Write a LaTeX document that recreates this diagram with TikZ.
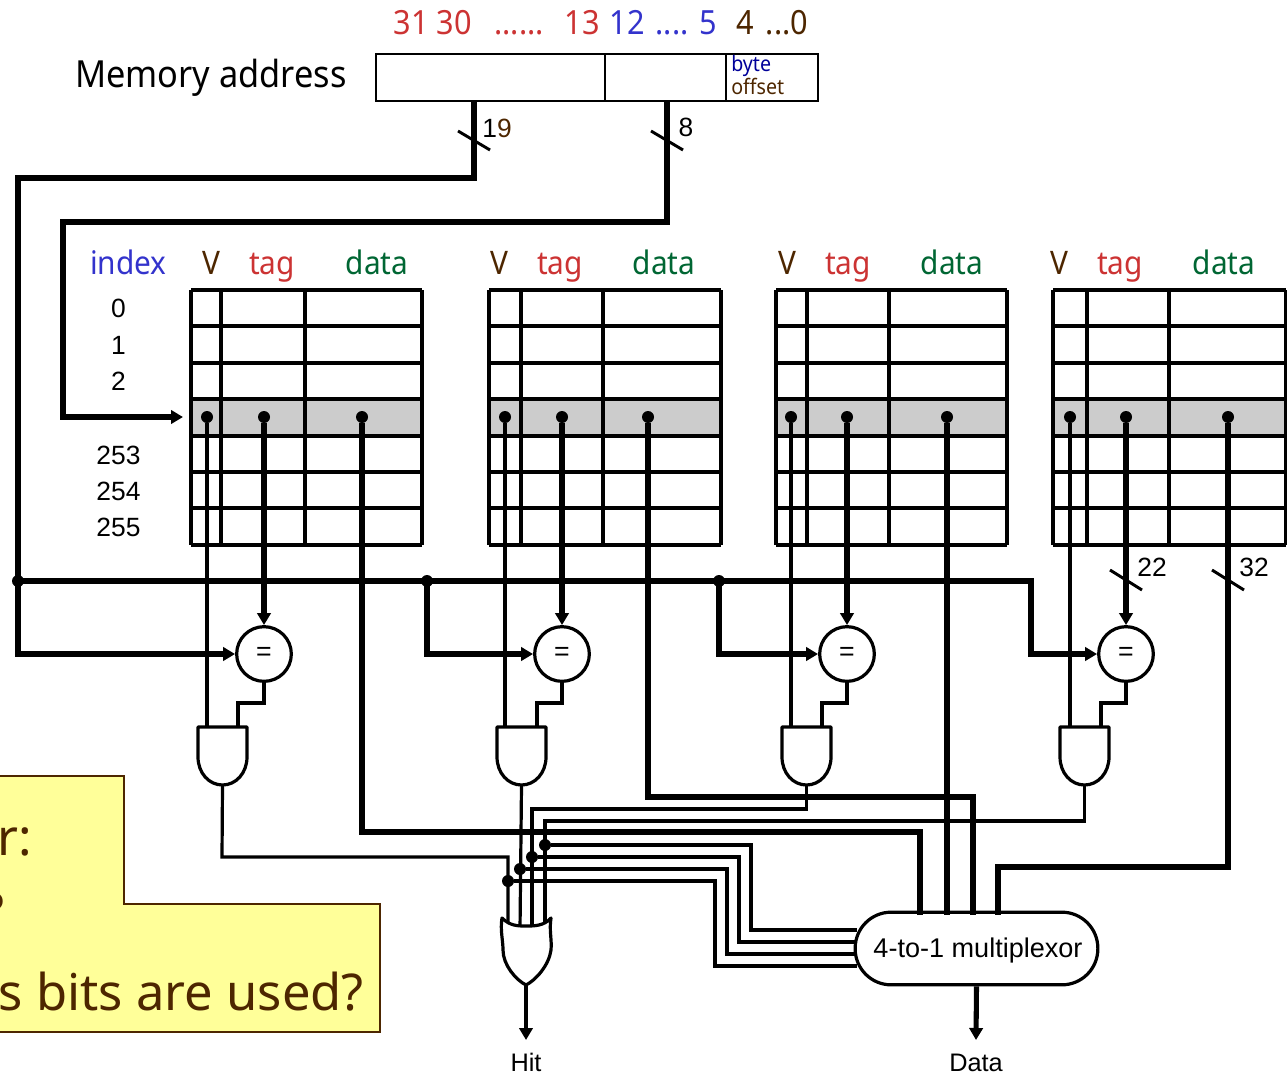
\documentclass[tikz,border=0pt]{standalone}
\usepackage{fontspec}
\setmainfont{Liberation Sans}
\newfontfamily\tah[FakeStretch=0.92]{Noto Sans}
\newfontfamily\tahc{Noto Sans}
\usetikzlibrary{arrows.meta,calc}
\definecolor{cred}{HTML}{CC3333}
\definecolor{cblue}{HTML}{3333CC}
\definecolor{cnavy}{HTML}{000099}
\definecolor{cbrown}{HTML}{4D2600}
\definecolor{cgreen}{HTML}{006633}
\definecolor{cyell}{HTML}{FFFF99}
\definecolor{cgrey}{HTML}{CCCCCC}
\tikzset{
  busline/.style={line width=3.8pt,line join=miter},
  sigline/.style={line width=2.4pt,line join=miter},
  arrowed/.style={-{Stealth[inset=0pt,length=9pt,width=10pt]}},
  grid line/.style={line width=2.4pt},
  joint/.style={circle,fill=black,inner sep=0pt,minimum size=9pt},
  smalljoint/.style={circle,fill=black,inner sep=0pt,minimum size=9pt},
  gatebody/.style={draw=black,fill=white,line width=2.4pt,line join=round},
  cmpnode/.style={circle,draw=black,fill=white,line width=2.4pt,minimum size=41pt,inner sep=0pt,font=\fontsize{20}{20}\selectfont},
  bitlab/.style={font=\tah\fontsize{25}{25}\selectfont,anchor=base,inner sep=0pt},
  lab/.style={font=\tah\fontsize{24.3}{25}\selectfont,anchor=base,inner sep=0pt},
  num/.style={font=\fontsize{19.8}{20}\selectfont,anchor=base,inner sep=0pt},
  call/.style={font=\tahc\fontsize{38}{38}\selectfont,text=cbrown,inner sep=0pt}
}
\begin{document}
\begin{tikzpicture}[x=0.75pt,y=-0.75pt]
\useasboundingbox (0,0) rectangle (1287,1074);
% callout
\begin{scope}
\clip (0,0) rectangle (1287,1074);
\draw[draw=cbrown,fill=cyell,line width=1.5pt] (-10,776) -- (124,776) -- (124,904) -- (380,904) -- (380,1032) -- (-10,1032) -- cycle;
\node[call,anchor=base east] (callA) at (32,855) {r:};
\node[call,anchor=base east] (callB) at (5,929) {?};
\node[call,anchor=base east] (callC) at (364,1010) {s bits are used?};
\end{scope}
% title
\node[font=\tah\fontsize{28}{28}\selectfont,anchor=base west,inner sep=0pt] (mem) at (75,87) {Memory address};
% bit numbers
\node[bitlab,text=cred] (b1) at (433,35) {31 30};
\node[bitlab,text=cred] (b2) at (519,35) {......};
\node[bitlab,text=cred] (b3) at (582,35) {13};
\node[bitlab,text=cblue] (b4) at (627,35) {12};
\node[bitlab,text=cblue] (b5) at (672,35) {....};
\node[bitlab,text=cblue] (b6) at (708,35) {5};
\node[bitlab,text=cbrown] (b7) at (745,35) {4};
\node[bitlab,text=cbrown] (b8) at (787,35) {...0};
% address box
\draw[line width=2.2pt] (376,54) rectangle (818,101);
\draw[line width=2.2pt] (605,54) -- (605,101) (726,54) -- (726,101);
\coordinate (addrTag) at (474,101);
\coordinate (addrIdx) at (667,101);
\node[font=\tah\fontsize{16}{16}\selectfont,text=cnavy,anchor=base west,inner sep=0pt] (byte) at (731,71) {byte};
\node[font=\tah\fontsize{16}{16}\selectfont,text=cbrown,anchor=base west,inner sep=0pt] (off) at (731,94) {offset};
% index labels
\node[lab,text=cblue] (idx) at (128.5,274) {index};
\foreach \t/\y in {0/317,1/354,2/390,253/464,254/500,255/536}
  \node[num] (row\t) at (118.5,\y) {\t};
% ways
\foreach \w/\xa/\xb/\xc/\xd/\xv/\xt/\xq/\lv/\lt/\lq in {
  A/191/221/305/422/207/264/362/211/272/377,
  B/489/521/603/721/505/562/648/499/560/664,
  C/776/807/889/1007/791/847/947/787/848/952,
  D/1053/1087/1169/1286/1070/1126/1228/1059/1120/1224}{
  \fill[cgrey] (\xa,399) rectangle (\xd,436);
  \foreach \y in {290,326,363,399,436,472,508,545}
    \draw[grid line] (\xa,\y) -- (\xd,\y);
  \foreach \x in {\xa,\xb,\xc,\xd}
    \draw[grid line] (\x,290) -- (\x,545);
  \node[lab,text=cbrown] (V\w) at (\lv,274) {V};
  \node[lab,text=cred] (T\w) at (\lt,274) {tag};
  \node[lab,text=cgreen] (Q\w) at (\lq,274) {data};
  \node[smalljoint] (dv\w) at (\xv,417) {};
  \node[smalljoint] (dt\w) at (\xt,417) {};
  \node[smalljoint] (dq\w) at (\xq,417) {};
}
% components
\node[cmpnode] (cmpA) at (264,654) {=};
\node[cmpnode] (cmpB) at (562,654) {=};
\node[cmpnode] (cmpC) at (847,654) {=};
\node[cmpnode] (cmpD) at (1126,654) {=};
\foreach \w/\x in {A/198,B/497,C/782,D/1060}{
  \coordinate (and\w) at (\x,727);
  \coordinate (andO\w) at ($(\x,785)+(24.5,0)$);
}
\coordinate (orO) at (526,985);
\node[draw=black,fill=white,line width=2.4pt,rounded corners=27pt,minimum width=182pt,minimum height=54.5pt,inner sep=0pt] (mux) at (976.5,948.5) {};
\node[font=\fontsize{20.3}{21}\selectfont,anchor=base,inner sep=0pt] (muxText) at (978,957) {4-to-1 multiplexor};
% thick wires
\coordinate (busL) at (18,581);
\coordinate (jB) at (427,581);
\coordinate (jC) at (719,581);
\coordinate (idxIn) at (183,417);
\draw[busline,arrowed] (addrIdx) -- (667,222) -- (63,222) -- (63,417) -- (idxIn);
\draw[busline,arrowed] (addrTag) -- (474,178) -- (18,178) -- (18,654) -- (cmpA.west);
\draw[busline,arrowed] (busL) -- (1031,581) -- (1031,654) -- (cmpD.west);
\draw[busline,arrowed] (jB) -- (427,654) -- (cmpB.west);
\draw[busline,arrowed] (jC) -- (719,654) -- (cmpC.west);
\foreach \w in {A,B,C,D}
  \draw[busline,arrowed] (dt\w) -- (cmp\w.north);
% data wires
\draw[busline] (dqA) -- (362,832) -- (920,832) -- (920,915);
\draw[busline] (dqB) -- (648,797) -- (973,797) -- (973,915);
\draw[busline] (dqC) -- (947,915);
\draw[busline] (dqD) -- (1228,867) -- (998,867) -- (998,915);
% V wires and comparator outputs
\foreach \w/\xv/\xc/\xo in {A/207/264/238,B/505/562/537,C/791/847/822,D/1070/1126/1101}{
  \draw[sigline] (dv\w) -- (\xv,727);
  \draw[sigline] (cmp\w.south) -- (\xc,703) -- (\xo,703) -- (\xo,727);
}
% AND outputs
\coordinate (orA) at (508,925);
\coordinate (orB) at (520,930);
\coordinate (orC) at (532,930);
\coordinate (orD) at (545,925);
\draw[sigline] (andOA) -- (222,857) -- (508,857) -- (orA);
\draw[sigline] (andOB) -- (orB);
\draw[sigline] (andOC) -- (806.5,809) -- (532,809) -- (orC);
\draw[sigline] (andOD) -- (1084.5,821) -- (545,821) -- (orD);
% joints and lines to mux
\node[joint] (hA) at (508,881) {};
\node[joint] (hB) at (520,869) {};
\node[joint] (hC) at (532,857) {};
\node[joint] (hD) at (545,845) {};
\draw[sigline] (hD) -- (751,845) -- (751,930) -- (857,930);
\draw[sigline] (hC) -- (739,857) -- (739,942) -- (855,942);
\draw[sigline] (hB) -- (727,869) -- (727,954) -- (855,954);
\draw[sigline] (hA) -- (715,881) -- (715,966) -- (857,966);
% gates
\foreach \x in {198,497,782,1060}{
  \begin{scope}[shift={(\x,727)}]
  \draw[gatebody] (0,0) -- (49,0) -- (49,30) .. controls (49,46) and (38,58) .. (24.5,58) .. controls (11,58) and (0,46) .. (0,30) -- cycle;
  \end{scope}
}
\draw[gatebody] (502,918) .. controls (510,926) and (518,926) .. (526,926) .. controls (534,926) and (544,926) .. (551,918) .. controls (549,930) and (552,940) .. (551,950) .. controls (549,965) and (536,980) .. (526,985) .. controls (516,980) and (503,965) .. (503,950) .. controls (503,940) and (500,930) .. (502,918) -- cycle;
% joints on top
\foreach \n/\x/\y in {jL/18/581,jM/427/581,jN/719/581}
  \node[joint] (\n) at (\x,\y) {};
% outputs
\coordinate (hitEnd) at (526,1040);
\coordinate (dataEnd) at (976,1040);
\draw[sigline,arrowed] (orO) -- (hitEnd);
\draw[busline,arrowed] (mux.south) -- (dataEnd);
\node[font=\fontsize{19}{20}\selectfont,anchor=base,inner sep=0pt] (hit) at (526,1071) {Hit};
\node[font=\fontsize{19}{20}\selectfont,anchor=base,inner sep=0pt] (dat) at (976,1071) {Data};
% bit width labels
\foreach \a/\b/\c/\d in {458/131/490/150,651/131/683/150,1110/570/1142/590,1212/570/1244/590}
  \draw[line width=2.2pt] (\a,\b) -- (\c,\d);
\node[num] (w19) at (497,137) {1\textcolor{cbrown}{9}};
\node[num] (w8) at (686,136) {8};
\node[num] (w22) at (1152,576) {22};
\node[num] (w32) at (1254,576) {32};
\end{tikzpicture}
\end{document}
